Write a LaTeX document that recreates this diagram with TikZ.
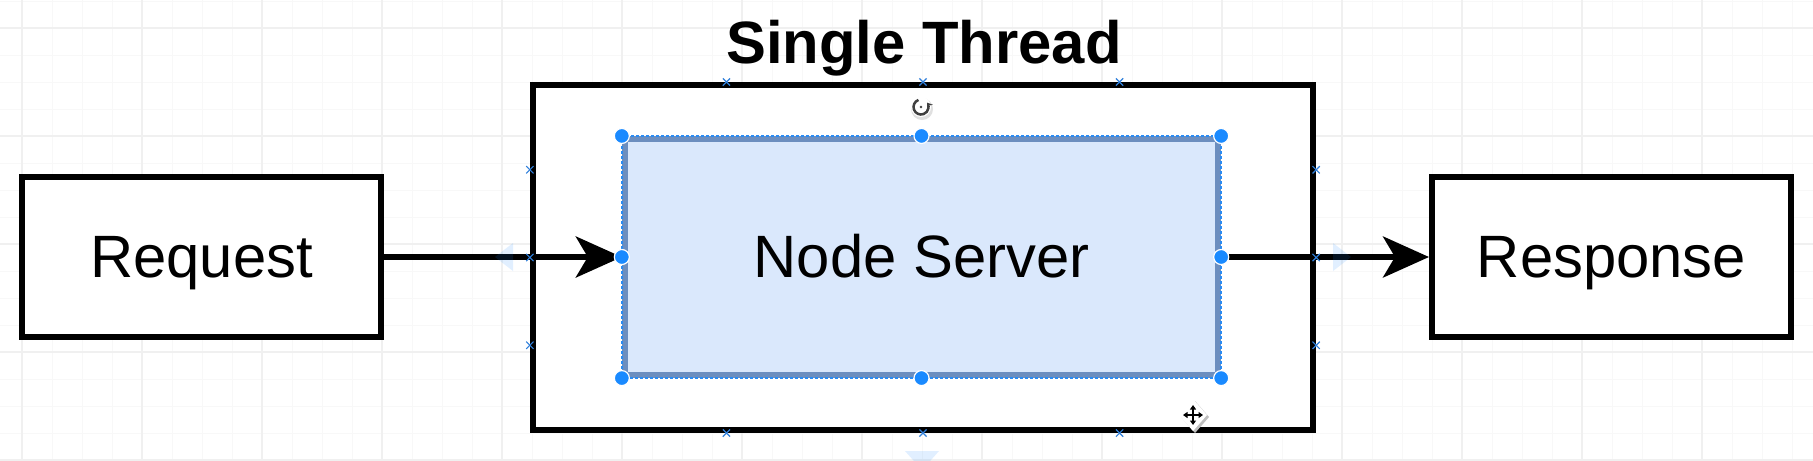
\documentclass[tikz,border=0pt]{standalone}
\usepackage{fontspec}
\setmainfont{Liberation Sans}
\usepackage{tikz}
\usetikzlibrary{arrows.meta,positioning,calc}
\usetikzlibrary{shapes.misc}

\definecolor{srvfill}{HTML}{DAE8FC}
\definecolor{srvline}{HTML}{6C8EBF}
\definecolor{handleblue}{HTML}{1A8AFF}
\definecolor{markblue}{HTML}{2F7FDB}
\definecolor{gridminor}{HTML}{F8F8F8}
\definecolor{gridmajor}{HTML}{F0F0F0}

\tikzset{
	box/.style={draw,line width=0.058cm,rectangle,inner sep=0pt,font=\fontsize{17}{20}\selectfont,text height=0.41cm,text depth=0pt},
	flow/.style={line width=0.055cm,-{Stealth[length=0.46cm,width=0.41cm,inset=0.12cm]}},
	handle/.style={circle,fill=handleblue,draw=white,line width=0.012cm,inner sep=0pt,minimum size=0.15cm},
	marker/.style={cross out,draw=markblue,line width=0.012cm,inner sep=0pt,minimum size=0.06cm},
}

\begin{document}
\begin{tikzpicture}[x=0.01cm,y=-0.01cm]
	\useasboundingbox[fill=white] (0,0) rectangle (1813,460);
	% grid
	\foreach \gx in {22,52,...,1813} \draw[gridminor,line width=0.01cm] (\gx,0) -- (\gx,460);
	\foreach \gy in {1,28,...,460} \draw[gridminor,line width=0.01cm] (0,\gy) -- (1813,\gy);
	\foreach \gx in {22,142,...,1813} \draw[gridmajor,line width=0.012cm] (\gx,0) -- (\gx,460);
	\foreach \gy in {28,136,...,460} \draw[gridmajor,line width=0.012cm] (0,\gy) -- (1813,\gy);

	\node[box,fill=white,minimum width=3.58cm,minimum height=1.60cm] at (201.5,257) (req) {Request};
	\node[box,fill=white,minimum width=7.80cm,minimum height=3.45cm] at (923,257.5) (thread) {};
	\node[box,draw=srvline,fill=srvfill,line width=0.06cm,minimum width=5.93cm,minimum height=2.36cm] at (921.5,257) (srv) {Node Server};
	\draw[handleblue!80!srvline,line width=0.015cm,dash pattern=on 0.03cm off 0.02cm] (srv.north west) rectangle (srv.south east);
	\node[box,fill=white,minimum width=3.59cm,minimum height=1.60cm] at (1611.5,257) (resp) {Response};
	\node[anchor=base,inner sep=0pt,font=\bfseries\fontsize{17}{20}\selectfont] at (924,63) (title) {Single Thread};

	\draw[flow] (req.east) -- (srv.west);
	\draw[flow] (srv.east) -- (resp.west);

	% selection marks
	\foreach \p/\k in {0.25/1,0.5/2,0.75/3} {
		\node[marker] (mkn\k) at ($(thread.north west)!\p!(thread.north east)$) {};
		\node[marker] (mks\k) at ($(thread.south west)!\p!(thread.south east)$) {};
		\node[marker] (mkw\k) at ($(thread.north west)!\p!(thread.south west)$) {};
		\node[marker] (mke\k) at ($(thread.north east)!\p!(thread.south east)$) {};
	}
	\foreach \a/\k in {north west/1,north/2,north east/3,west/4,east/5,south west/6,south/7,south east/8}
		\node[handle] (h\k) at (srv.\a) {};

	\fill[handleblue,fill opacity=0.13] (513,243) -- (495,257) -- (513,271) -- cycle;
	\fill[handleblue,fill opacity=0.13] (1333,243) -- (1351,257) -- (1333,271) -- cycle;
	\fill[handleblue,fill opacity=0.13] (905,451) -- (939,451) -- (922,470) -- cycle;

	% rotate and move icons
	\fill[black!12] (922,109) circle[radius=0.11cm];
	\fill[white] (921,107) circle[radius=0.1cm];
	\draw[black!75,line width=0.025cm,-{Stealth[length=0.05cm,width=0.07cm]}] ($(921,107)+(110:0.075cm)$) arc[start angle=110,end angle=395,radius=0.075cm];
	\fill[black!75] (921,107) circle[radius=0.014cm];
	\fill[black!25] (1195,401) -- (1209,417) -- (1195,433) -- (1181,417) -- cycle;
	\fill[white] (1193,399) -- (1207,415) -- (1193,431) -- (1179,415) -- cycle;
	\draw[line width=0.022cm,{Triangle[length=0.045cm,width=0.06cm]}-{Triangle[length=0.045cm,width=0.06cm]}] (1183,415) -- (1203,415);
	\draw[line width=0.022cm,{Triangle[length=0.045cm,width=0.06cm]}-{Triangle[length=0.045cm,width=0.06cm]}] (1193,405) -- (1193,425);
\end{tikzpicture}
\end{document}
